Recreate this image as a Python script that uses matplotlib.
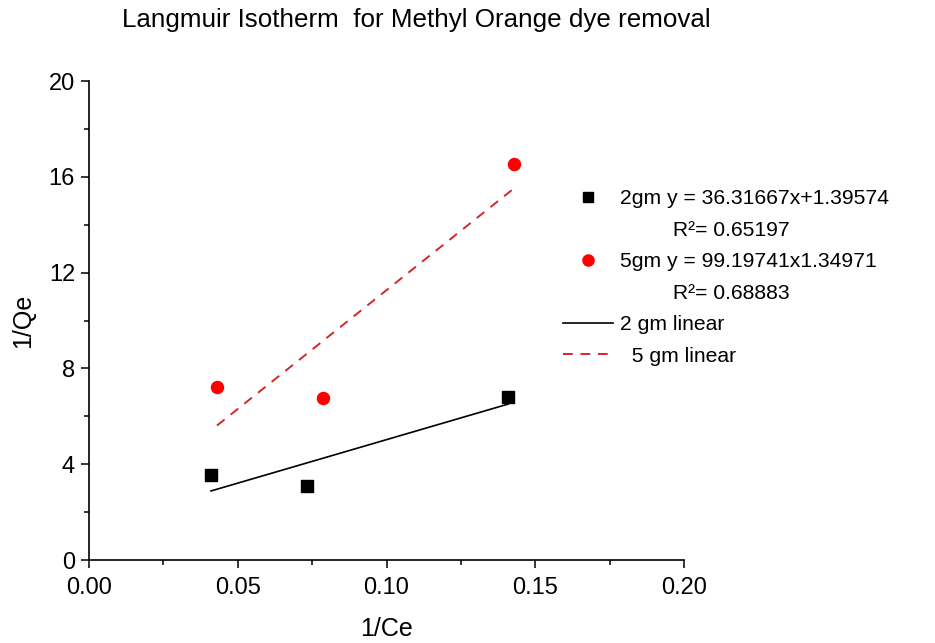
import matplotlib.pyplot as plt
from matplotlib.lines import Line2D
import numpy as np

plt.rcParams['font.family'] = ['Liberation Sans', 'DejaVu Sans']

# 1/Ce vs 1/Qe for the two adsorbent doses
x_2gm = [0.0410, 0.0733, 0.1409]
y_2gm = [3.56, 3.10, 6.82]
x_5gm = [0.0430, 0.0787, 0.1429]
y_5gm = [7.24, 6.78, 16.53]

# linear fits (slope, intercept, R^2)
fit_2gm = (36.31667, 1.39574, 0.65197)
fit_5gm = (99.19741, 1.34971, 0.68883)

fig = plt.figure(figsize=(9.35, 6.43), dpi=100)
ax = fig.add_axes([0.0952, 0.129, 0.6364, 0.745])

ax.scatter(x_2gm, y_2gm, marker='s', s=70, color='black', zorder=3)
ax.scatter(x_5gm, y_5gm, marker='o', s=75, color='red', zorder=3)

xl = np.array([min(x_2gm), max(x_2gm)])
ax.plot(xl, fit_2gm[0] * xl + fit_2gm[1], color='black', lw=1.2)
xl = np.array([min(x_5gm), max(x_5gm)])
ax.plot(xl, fit_5gm[0] * xl + fit_5gm[1], color='#d62728', lw=1.4,
        ls=(0, (5, 4)))

ax.set_xlim(0, 0.20)
ax.set_ylim(0, 20)
ax.set_xticks([0.00, 0.05, 0.10, 0.15, 0.20])
ax.set_xticklabels(['0.00', '0.05', '0.10', '0.15', '0.20'])
ax.set_yticks([0, 4, 8, 12, 16, 20])
ax.set_xticks(np.arange(0.025, 0.2, 0.05), minor=True)
ax.set_yticks(np.arange(2, 20, 4), minor=True)
ax.tick_params(which='major', direction='out', length=6, width=1.1,
               labelsize=17, pad=4)
ax.tick_params(axis='x', which='major', pad=6)
ax.tick_params(which='minor', direction='out', length=3.4, width=1.1)
for side in ['top', 'right']:
    ax.spines[side].set_visible(False)
for side in ['left', 'bottom']:
    ax.spines[side].set_linewidth(1.2)

ax.set_xlabel('1/Ce', fontsize=18, labelpad=13)
ax.set_ylabel('1/Qe', fontsize=18, labelpad=10)
fig.text(0.445, 0.969, 'Langmuir Isotherm  for Methyl Orange dye removal',
         ha='center', va='center', fontsize=18.7)

blank = Line2D([], [], linestyle='none')
handles = [
    Line2D([], [], marker='s', color='black', ls='none', markersize=7),
    blank,
    Line2D([], [], marker='o', color='red', ls='none', markersize=8),
    blank,
    Line2D([], [], color='black', lw=1.2),
    Line2D([], [], color='#d62728', lw=1.4, ls=(0, (5, 4))),
]
labels = [
    '2gm y = %.5fx+%.5f' % fit_2gm[:2],
    '         R\u00b2= %.5f' % fit_2gm[2],
    '5gm y = %.5fx%.5f' % fit_5gm[:2],
    '         R\u00b2= %.5f' % fit_5gm[2],
    '2 gm linear',
    '  5 gm linear',
]
fig.legend(handles, labels, loc='upper left', bbox_to_anchor=(0.5906, 0.722),
           frameon=False, fontsize=15.2, handlelength=2.4, handletextpad=0.3,
           labelspacing=0.59, borderpad=0)

fig.savefig('out.png', dpi=100)
